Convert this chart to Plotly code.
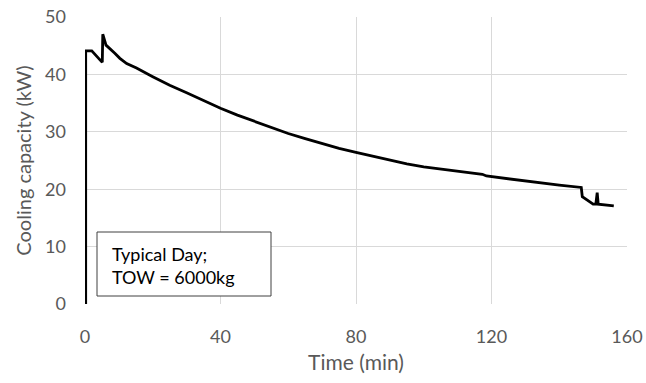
import plotly.graph_objects as go

time_min = [0.2, 0.2, 2.0, 5.1, 5.25, 6.2, 8.8, 10.3, 12.3, 15.2, 20.0, 25.0, 30.0, 35.0, 40.0,
            45.0, 50.0, 55.0, 60.0, 65.0, 70.0, 75.0, 80.0, 85.0, 90.0, 95.0, 100.0, 105.0,
            110.0, 115.0, 117.0, 117.3, 118.5, 125.0, 130.0, 135.0, 140.0, 146.5, 146.8,
            150.0, 150.8, 151.2, 151.5, 156.1]
cooling_kw = [0.0, 44.1, 44.1, 42.1, 47.0, 45.1, 43.7, 42.8, 41.9, 41.1, 39.6, 38.1, 36.8, 35.4, 34.1,
              32.9, 31.8, 30.7, 29.7, 28.8, 27.9, 27.1, 26.4, 25.7, 25.0, 24.4, 23.9, 23.5,
              23.1, 22.7, 22.5, 22.6, 22.3, 21.8, 21.4, 21.1, 20.7, 20.3, 18.7,
              17.4, 17.4, 19.4, 17.4, 17.1]

x_ticks = [0, 40, 80, 120, 160]
y_ticks = [0, 10, 20, 30, 40, 50]

fig = go.Figure()
fig.add_trace(go.Scatter(x=time_min, y=cooling_kw, mode="lines",
                         line=dict(color="black", width=2.8), showlegend=False))

font_family = "Lato, Open Sans, sans-serif"
W, L, R, T, B, H = 646, 85, 19, 17, 79, 383
pw, ph = W - L - R, H - T - B
fig.update_layout(
    width=W, height=H,
    margin=dict(l=L, r=R, t=T, b=B),
    paper_bgcolor="white", plot_bgcolor="white",
    font=dict(family=font_family, color="#595959", size=18),
    xaxis=dict(range=[0, 160], tickvals=x_ticks, showgrid=True, gridcolor="#d9d9d9",
               gridwidth=1, zeroline=False, showline=False, ticks="", automargin=False,
               tickfont=dict(size=18, color="#595959"), ticklabelstandoff=20,
               title=dict(text="Time (min)", font=dict(size=21, color="#595959"), standoff=9)),
    yaxis=dict(range=[0, 50], tickvals=y_ticks, showgrid=True, gridcolor="#d9d9d9",
               gridwidth=1, zeroline=False, showline=False, ticks="", automargin=False,
               tickfont=dict(size=18, color="#595959"), ticklabelstandoff=18,
               title=dict(text="Cooling capacity (kW)", font=dict(size=20, color="#595959"), standoff=8)),
)

fig.add_shape(type="rect", xref="paper", yref="paper",
              x0=(97 - L) / pw, x1=(271 - L) / pw,
              y0=(H - B - 296) / ph, y1=(H - B - 232) / ph,
              line=dict(color="#404040", width=1), fillcolor="white", layer="above")
fig.add_annotation(xref="paper", yref="paper", x=(110 - L) / pw, y=(H - B - 265) / ph,
                   xanchor="left", yanchor="middle", align="left",
                   text="Typical Day;<br>TOW = 6000kg", showarrow=False,
                   font=dict(family=font_family, size=18, color="black"))

fig.write_html("out.html")
